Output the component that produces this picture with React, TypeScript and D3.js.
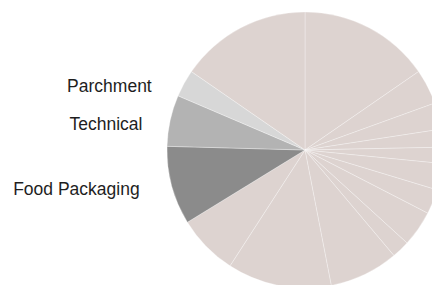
import React from 'react'
import * as d3 from 'd3'

// slices clockwise from 12 o'clock (share of total, %)
const categories = [
    'Segment A', 'Segment B', 'Segment C', 'Segment D', 'Segment E', 'Segment F',
    'Segment G', 'Segment H', 'Segment I', 'Segment J', 'Segment K', 'Segment L',
    'Food Packaging', 'Technical', 'Parchment', 'Segment M',
]
const values = [15.4, 4.1, 3.1, 2.1, 1.9, 3.1, 2.9, 4.2, 2.1, 8.1, 12.2, 7.1, 9.2, 6.0, 3.2, 15.4]
const highlighted = ['Food Packaging', 'Technical', 'Parchment']
const highlightColors = ['#8b8b8b', '#b3b3b3', '#d7d7d7']

const WIDTH = 432
const HEIGHT = 285
const CX = 305
const CY = 150
const R = 138

// label placement: gap from the pie edge and text centre line
const labelPos: Record<string, { gap: number; y: number }> = {
    Parchment: { gap: 31, y: 86 },
    Technical: { gap: 27, y: 124 },
    'Food Packaging': { gap: 33, y: 189 },
}

const App = () => {
    const data = categories.map((c, i) => ({ name: c, value: values[i] }))
    const pie = d3.pie<{ name: string; value: number }>()
        .sort(null)
        .value(d => d.value)
    const arcs = pie(data)
    const arc = d3.arc<d3.PieArcDatum<{ name: string; value: number }>>()
        .innerRadius(0)
        .outerRadius(R)

    const color = d3.scaleOrdinal<string, string>()
        .domain(highlighted)
        .range(highlightColors)
        .unknown('#ddd3d0')

    return (
        <svg
            width={WIDTH}
            height={HEIGHT}
            style={{ position: 'absolute', left: 0, top: 0 }}
        >
            <g transform={`translate(${CX}, ${CY})`}>
                {arcs.map(a => (
                    <path
                        key={a.data.name}
                        d={arc(a) || ''}
                        fill={color(a.data.name)}
                        stroke='#ffffff'
                        strokeOpacity={0.5}
                        strokeWidth={0.6}
                    />
                ))}
            </g>
            {arcs.filter(a => highlighted.includes(a.data.name)).map(a => {
                const { gap, y } = labelPos[a.data.name]
                const dy = y - CY
                const edge = CX - Math.sqrt(R * R - dy * dy)
                return (
                    <text
                        key={a.data.name}
                        x={edge - gap}
                        y={y}
                        textAnchor='end'
                        dominantBaseline='central'
                        fontFamily='Liberation Sans, Arial, sans-serif'
                        fontSize={17.5}
                        fill='#1e1e1e'
                    >
                        {a.data.name}
                    </text>
                )
            })}
        </svg>
    )
}

export default App
